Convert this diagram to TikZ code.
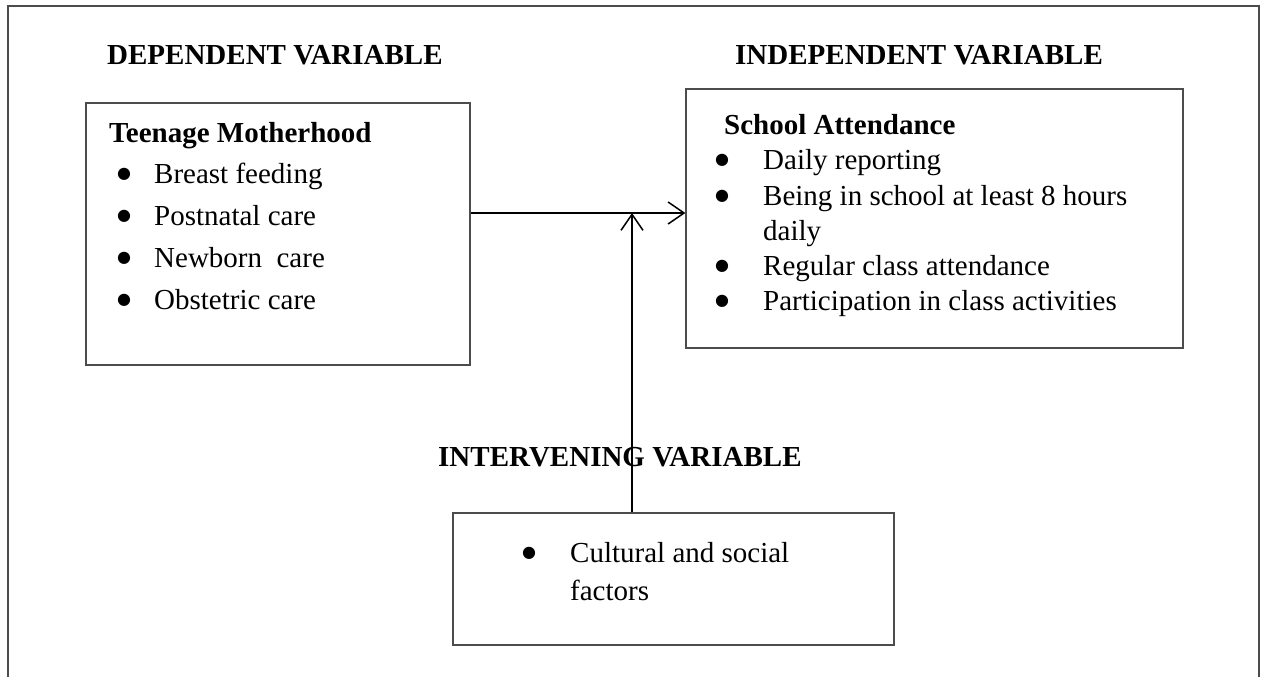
\documentclass[tikz,border=0pt]{standalone}
\usepackage{fontspec}
\setmainfont{Liberation Serif}
\newfontfamily\symfont{DejaVu Sans}
\usetikzlibrary{arrows.meta}
\begin{document}
\begin{tikzpicture}[x=1pt,y=-1pt,
  frame/.style={draw=black!70,line width=1.3pt},
  box/.style={draw=black!70,line width=1.2pt,rectangle,inner sep=0pt},
  head/.style={anchor=base west,inner sep=0pt,font=\fontsize{29}{35}\selectfont\bfseries},
  item/.style={anchor=base west,inner sep=0pt,font=\fontsize{29}{35}\selectfont},
  dot/.style={anchor=center,inner sep=0pt,font=\symfont\fontsize{16}{16}\selectfont},
  arr/.style={draw=black,line width=1.5pt,-{Straight Barb[length=16pt,width=22pt,line width=1.5pt]}}]
\useasboundingbox (0,0) rectangle (1264,677);
% outer frame, open at the bottom
\draw[frame] (8,677) -- (8,6) -- (1259,6) -- (1259,677);

% section titles
\node[head] (tdep) at (107,65) {DEPENDENT VARIABLE};
\node[head] (tind) at (735,65) {INDEPENDENT VARIABLE};
\node[head] (tint) at (438,466) {INTERVENING VARIABLE};

% boxes
\node[box,minimum width=384pt,minimum height=262pt] (tm) at (278,234) {};
\node[box,minimum width=497pt,minimum height=259pt] (sa) at (934.5,218.5) {};
\node[box,minimum width=441pt,minimum height=132pt,fill=white] (cs) at (673.5,579) {};

% teenage motherhood
\node[head] (tmh) at (109,142) {Teenage Motherhood};
\node[dot] (b1) at (124,174) {●};
\node[item] (i1) at (154,183) {Breast feeding};
\node[dot] (b2) at (124,216) {●};
\node[item] (i2) at (154,225) {Postnatal care};
\node[dot] (b3) at (124,258) {●};
\node[item] (i3) at (154,267) {Newborn\ \ care};
\node[dot] (b4) at (124,300) {●};
\node[item] (i4) at (154,309) {Obstetric care};

% school attendance
\node[head] (sah) at (724,134) {School Attendance};
\node[dot] (s1) at (722,160) {●};
\node[item] (j1) at (763,169) {Daily reporting};
\node[dot] (s2) at (722,196) {●};
\node[item] (j2) at (763,205) {Being in school at least 8 hours};
\node[item] (j2b) at (763,240) {daily};
\node[dot] (s3) at (722,266) {●};
\node[item] (j3) at (763,275) {Regular class attendance};
\node[dot] (s4) at (722,301) {●};
\node[item] (j4) at (763,310) {Participation in class activities};

% cultural and social factors
\node[dot] (c1) at (529,553) {●};
\node[item] (k1) at (570,562) {Cultural and social};
\node[item] (k1b) at (570,600) {factors};

% connectors
\coordinate (jn) at (632,213);
\draw[arr] (tm.east |- jn) -- (sa.west |- jn);
\draw[arr] (cs.north -| jn) -- (jn);
\end{tikzpicture}
\end{document}
